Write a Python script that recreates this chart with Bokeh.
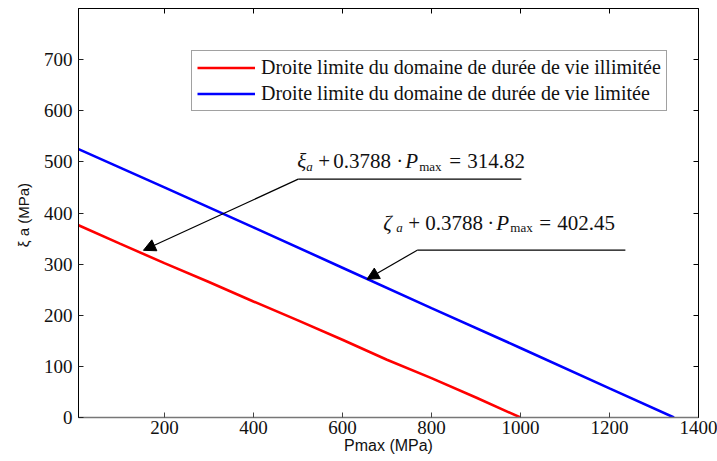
from bokeh.plotting import figure
from bokeh.models import (Range1d, LinearAxis, FixedTicker, Label, Arrow, NormalHead,
                          Legend, LegendItem)
from bokeh.embed import file_html
from bokeh.resources import INLINE

# ---- data ----
red_p = [7, 100, 200, 300, 400, 500, 600, 700, 800, 900, 1000]
red_s = [376, 340, 302, 265, 227, 190, 152, 113, 77, 39, 0]
blue_p = [7, 200, 400, 600, 800, 1000, 1200, 1345]
blue_s = [525, 450, 372, 293, 214, 136, 57, 0]

x_ticks = [200, 400, 600, 800, 1000, 1200, 1400]
y_ticks = [0, 100, 200, 300, 400, 500, 600, 700]

legend_labels = ["Droite limite du domaine de durée de vie illimitée",
                 "Droite limite du domaine de durée de vie limitée"]

# annotation arrows: (knee x, knee y, end of horizontal x, tip x, tip y)
arrow1 = dict(kx=500.7, ky=466.2, hx=1002, tx=152.9, ty=327)
arrow2 = dict(kx=768, ky=327.2, hx=1235.7, tx=655, ty=270.3)

SERIF = "'Liberation Serif', 'Times New Roman', serif"
SANS = "'Liberation Sans', Arial, sans-serif"

p = figure(width=717, height=461, output_backend="svg", toolbar_location=None,
           x_range=Range1d(7, 1400), y_range=Range1d(0, 800),
           min_border_left=78, min_border_right=19, min_border_top=8,
           min_border_bottom=44)
p.grid.visible = False
p.outline_line_color = "black"
p.outline_line_width = 1
p.background_fill_color = "white"
p.border_fill_color = "white"

# axes
for ax in p.xaxis:
    ax.ticker = FixedTicker(ticks=x_ticks)
    ax.major_label_text_font = SERIF
    ax.major_label_text_font_size = "19px"
    ax.major_label_text_color = "#111111"
    ax.major_label_standoff = 3
    ax.major_tick_in = 5
    ax.major_tick_out = 0
    ax.minor_tick_line_color = None
    ax.axis_line_color = "#777777"
    ax.axis_line_width = 1.5
    ax.major_tick_line_color = "#444444"
    ax.axis_label = "Pmax (MPa)"
    ax.axis_label_text_font = SANS
    ax.axis_label_text_font_style = "normal"
    ax.axis_label_text_font_size = "16px"
    ax.axis_label_text_color = "#111111"
    ax.axis_label_standoff = 0

for ax in p.yaxis:
    ax.ticker = FixedTicker(ticks=y_ticks)
    ax.major_label_text_font = SERIF
    ax.major_label_text_font_size = "19px"
    ax.major_label_text_color = "#111111"
    ax.major_label_standoff = 6
    ax.major_tick_in = 5
    ax.major_tick_out = 0
    ax.minor_tick_line_color = None
    ax.axis_line_color = "black"
    ax.major_tick_line_color = "#222222"
    ax.axis_label = "ξ a  (MPa)"
    ax.axis_label_text_font = SANS
    ax.axis_label_text_font_style = "normal"
    ax.axis_label_text_font_size = "15px"
    ax.axis_label_text_color = "#111111"
    ax.axis_label_standoff = 9

# mirrored ticks (top / right), labels not drawn
top = LinearAxis(ticker=FixedTicker(ticks=x_ticks[:-1]), major_label_text_font_size="1px",
                 major_label_text_color=None,
                 major_label_standoff=0, major_tick_in=5, major_tick_out=0,
                 minor_tick_line_color=None, axis_line_color="black")
right = LinearAxis(ticker=FixedTicker(ticks=y_ticks[1:]), major_label_text_font_size="1px",
                   major_label_text_color=None,
                   major_label_standoff=0, major_tick_in=5, major_tick_out=0,
                   minor_tick_line_color=None, axis_line_color="black")
p.add_layout(top, "above")
p.add_layout(right, "right")

# lines
r_red = p.line(red_p, red_s, line_color="#ff0000", line_width=2.6)
r_blue = p.line(blue_p, blue_s, line_color="#0000ff", line_width=2.6)

legend = Legend(items=[LegendItem(label=legend_labels[0], renderers=[r_red]),
                       LegendItem(label=legend_labels[1], renderers=[r_blue])],
                location=(113, 306), orientation="vertical",
                label_text_font=SERIF, label_text_font_size="20px",
                label_text_color="#111111",
                glyph_width=58, glyph_height=21, label_height=21,
                label_standoff=6, padding=5, spacing=3, margin=0,
                border_line_color="#444444", border_line_width=1,
                background_fill_color="white", background_fill_alpha=1)
p.add_layout(legend, "center")

# annotation arrows
for a in (arrow1, arrow2):
    p.line([a["hx"], a["kx"]], [a["ky"], a["ky"]], line_color="black", line_width=1.2)
    p.add_layout(Arrow(end=NormalHead(size=12, fill_color="black", line_color="black"),
                       x_start=a["kx"], y_start=a["ky"], x_end=a["tx"], y_end=a["ty"],
                       line_color="black", line_width=1.2))

# equations, built from pieces (text, pixel offset, size, italic, subscript)
def equation(x, y, pieces):
    for text, dx, size, italic, sub in pieces:
        p.add_layout(Label(x=x, y=y, x_offset=dx, y_offset=(-5 if sub else 0), text=text,
                           text_font=SERIF, text_font_size=size,
                           text_font_style=("italic" if italic else "normal"),
                           text_baseline="alphabetic", text_align="left",
                           text_color="#111111"))

equation(498.4, 501.4, [("ξ", 0, "21px", True, False),
                        ("a", 9, "13px", True, True),
                        ("+", 21, "21px", False, False),
                        ("0.3788", 36, "21px", False, False),
                        ("·", 99, "21px", False, False),
                        ("P", 108, "21px", True, False),
                        ("max", 122, "13px", False, True),
                        ("=", 152, "21px", False, False),
                        ("314.82", 170, "21px", False, False)])

equation(691.8, 381.0, [("ζ", 0, "21px", True, False),
                        ("a", 13, "13px", True, True),
                        ("+", 25, "21px", False, False),
                        ("0.3788", 42, "21px", False, False),
                        ("·", 104, "21px", False, False),
                        ("P", 113, "21px", True, False),
                        ("max", 127, "13px", False, True),
                        ("=", 156, "21px", False, False),
                        ("402.45", 174, "21px", False, False)])

open("out.html", "w").write(file_html(p, INLINE))
